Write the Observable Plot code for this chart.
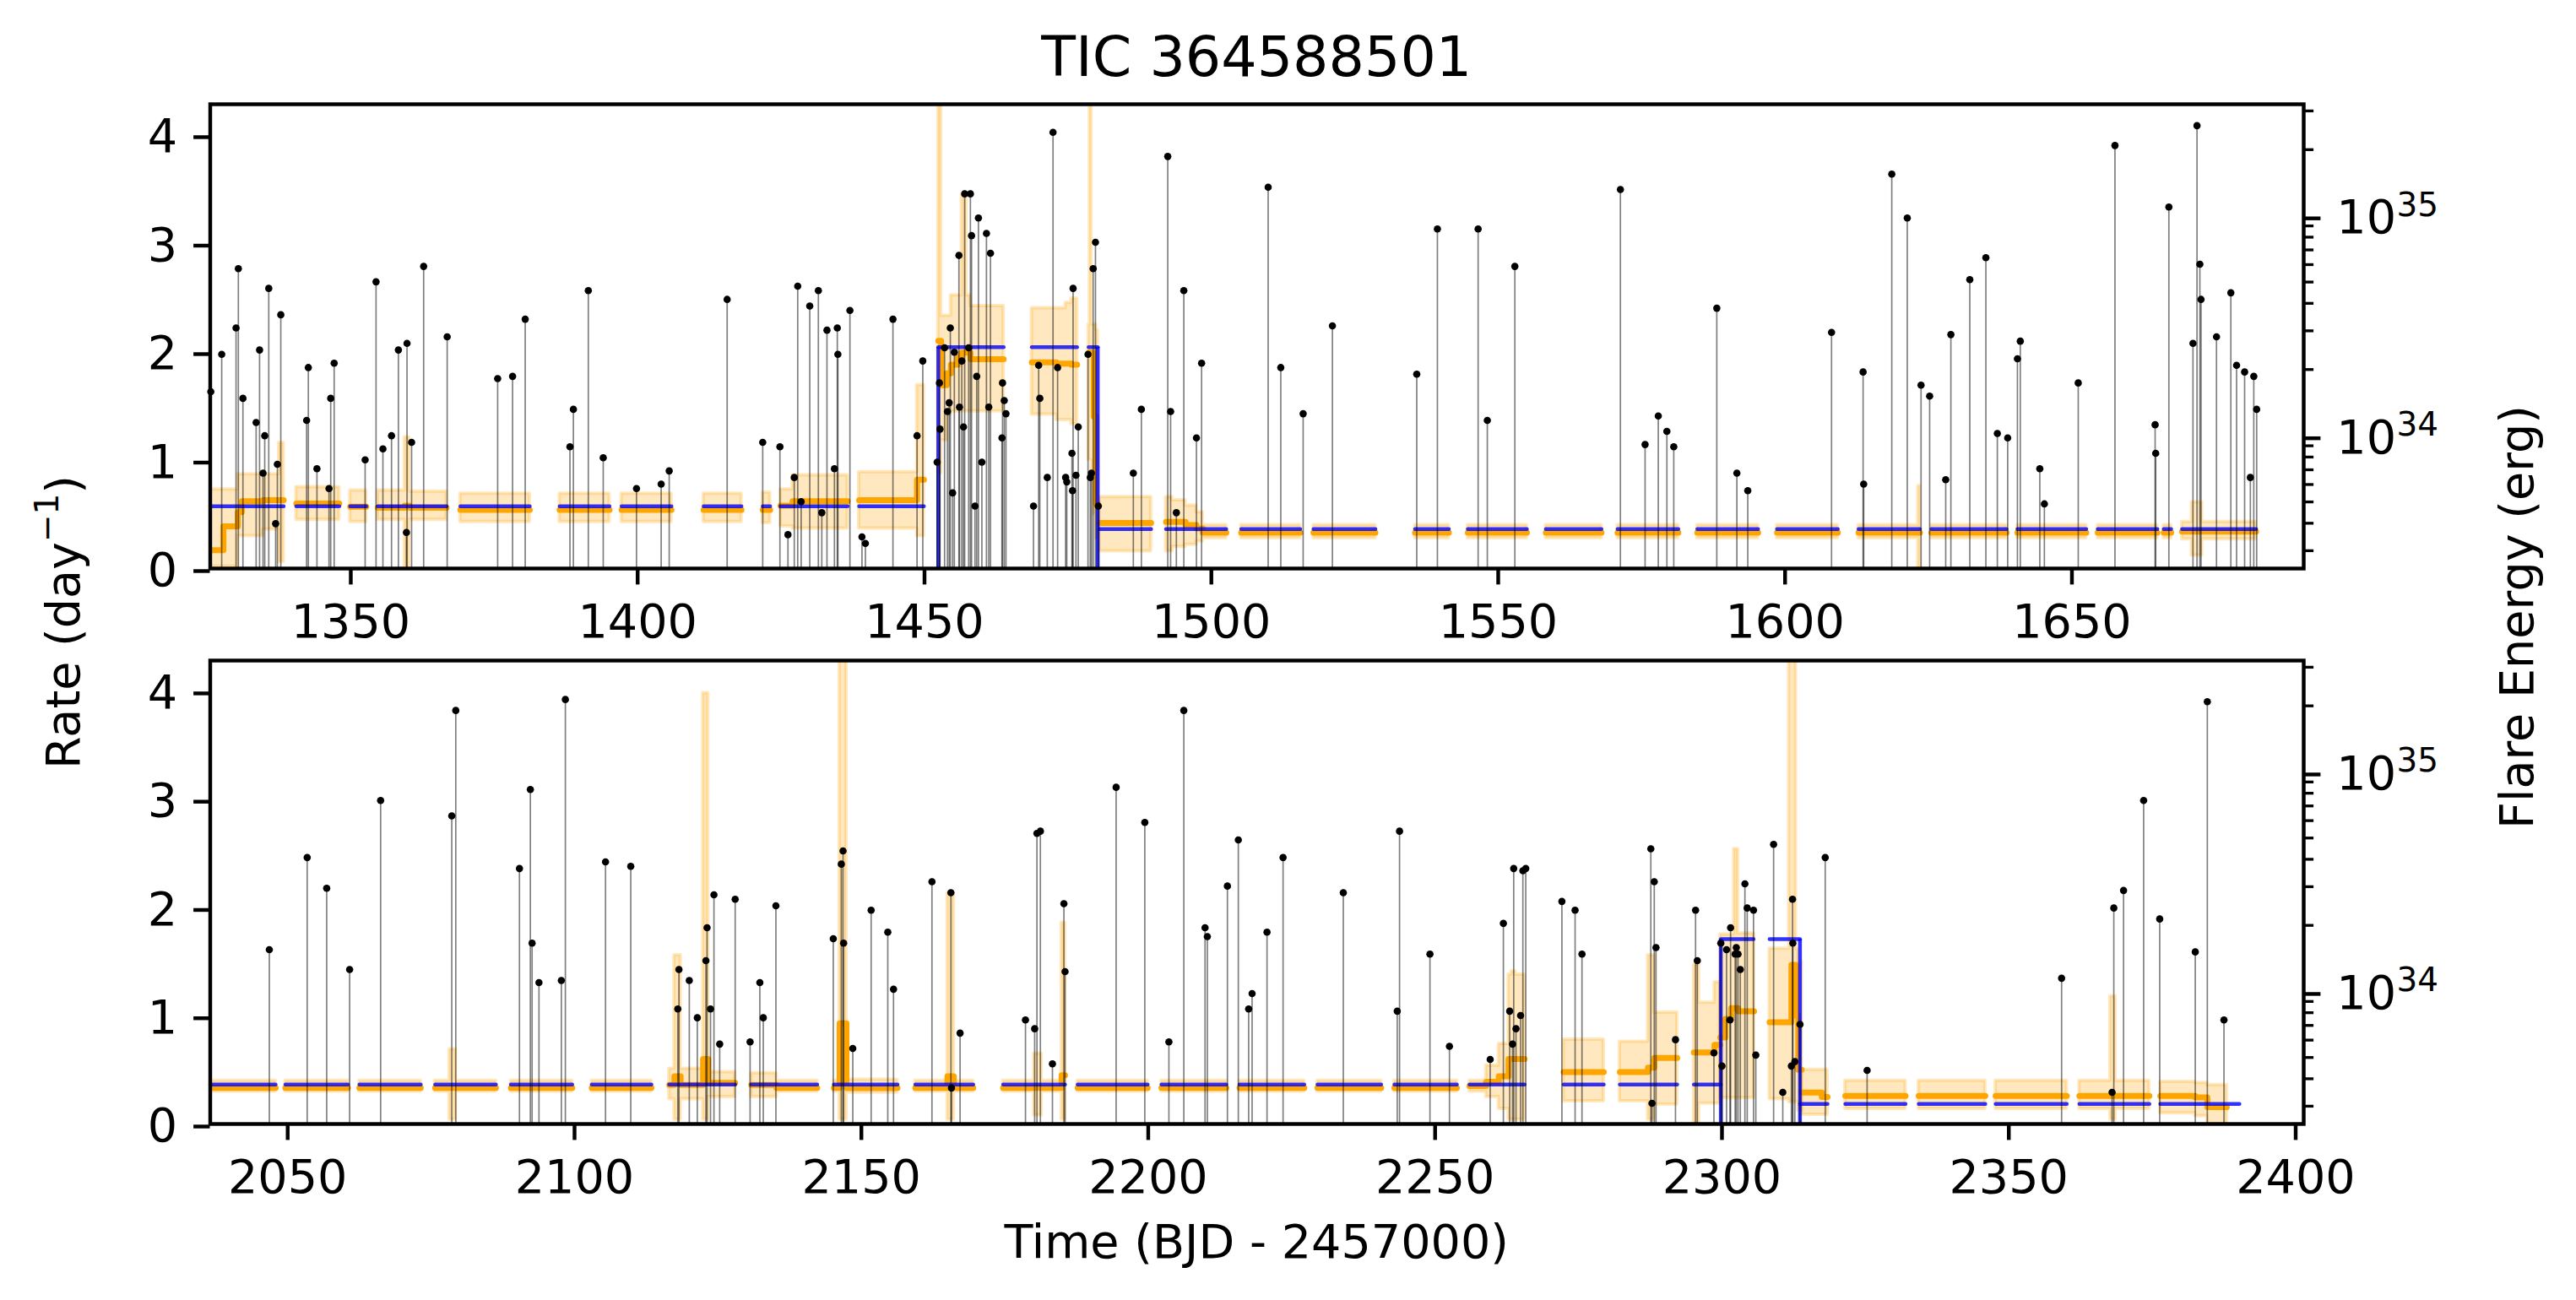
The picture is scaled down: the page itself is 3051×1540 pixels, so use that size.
<!DOCTYPE html>
<html>
<head>
<meta charset="utf-8">
<script src="https://cdn.jsdelivr.net/npm/d3@7"></script>
<script src="https://cdn.jsdelivr.net/npm/@observablehq/plot@0.6"></script>
<style>
html,body{margin:0;padding:0;background:#fff;}
#fig{position:relative;width:3051px;height:1540px;overflow:hidden;font-family:"DejaVu Sans",sans-serif;color:#000;background:#fff;}
#fig .layer{position:absolute;left:0;top:0;}
#fig .lbl{position:absolute;white-space:nowrap;line-height:1;font-family:"DejaVu Sans",sans-serif;color:#000;}
</style>
</head>
<body>
<div id="fig"></div>
<script>
// ---------------- DATA ----------------
const title = "TIC 364588501";
const xLabel = "Time (BJD - 2457000)";
const rightLabel = "Flare Energy (erg)";

const topXDomain = [1325.5, 1690.4];
const bottomXDomain = [2036.5, 2401.4];
const rateDomain = [0, 4.28];
const log10EnergyDomain = [33.396, 35.5075];

const topXTicks = [1350, 1400, 1450, 1500, 1550, 1600, 1650];
const bottomXTicks = [2050, 2100, 2150, 2200, 2250, 2300, 2350, 2400];
const rateTicks = [0, 1, 2, 3, 4];
const energyMajorTicks = [1e34, 1e35];
const energyMajorExp = ["34", "35"];
const energyMinorTicks = [3e33, 4e33, 5e33, 6e33, 7e33, 8e33, 9e33,
  2e34, 3e34, 4e34, 5e34, 6e34, 7e34, 8e34, 9e34, 2e35, 3e35];

// observing segments [start, end] (days)
const topSegs = [
  [1325.5,1338.3],[1340.5,1348.0],[1349.9,1352.7],[1354.7,1366.7],[1369.1,1381.2],
  [1386.4,1395.1],[1397.2,1405.9],[1411.5,1418.1],[1421.8,1423.1],[1424.9,1436.6],
  [1438.6,1449.9],[1452.4,1463.8],[1468.7,1476.6],[1478.6,1480.2],[1480.5,1489.5],
  [1492.1,1502.6],[1505.2,1515.5],[1517.8,1528.6],[1535.5,1541.4],[1544.7,1555.0],
  [1558.3,1568.0],[1570.8,1581.4],[1584.7,1595.3],[1598.6,1609.2],[1612.8,1623.5],
  [1625.5,1638.6],[1640.5,1652.5],[1654.5,1664.9],[1666.0,1667.3],[1669.2,1682.1]
];
// posterior rate steps per segment: [t, median, lower, upper]
const topOrange = [
  [[1325.5,0.17,0.02,0.73],[1327.8,0.39,0.02,0.73],[1330.3,0.52,0.30,0.87],[1331.0,0.62,0.30,0.87],[1334.7,0.63,0.36,0.87],[1337.5,0.63,0.06,1.16]],
  [[1340.5,0.60,0.45,0.75]],
  [[1349.9,0.57,0.43,0.72]],
  [[1354.7,0.56,0.45,0.72],[1359.4,0.58,0.02,1.21],[1360.2,0.56,0.45,0.71]],
  [[1369.1,0.54,0.43,0.69]],
  [[1386.4,0.54,0.43,0.69]],
  [[1397.2,0.54,0.43,0.69]],
  [[1411.5,0.54,0.43,0.69]],
  [[1421.8,0.54,0.42,0.70]],
  [[1424.9,0.58,0.39,0.73],[1427.0,0.62,0.37,0.86]],
  [[1438.6,0.63,0.37,0.89],[1448.7,0.82,0.30,1.69]],
  [[1452.4,2.10,0.88,6],[1452.9,1.69,1.18,2.33],[1453.9,1.80,1.42,2.33],[1454.6,1.88,1.45,2.52],[1455.8,1.95,1.45,2.52],[1456.5,1.99,1.45,3.45],[1457.3,1.99,1.45,2.52],[1458.0,1.93,1.45,2.42]],
  [[1468.7,1.90,1.42,2.40],[1473.0,1.89,1.37,2.40],[1474.6,1.89,1.37,2.45],[1475.6,1.88,1.33,2.49]],
  [[1478.6,1.99,1.00,2.25],[1478.8,1.99,1.00,6],[1479.1,1.99,0.90,2.25],[1479.5,1.40,0.50,2.25],[1479.9,0.60,0.28,2.20]],
  [[1480.5,0.42,0.16,0.66]],
  [[1492.1,0.43,0.16,0.66],[1493.2,0.43,0.20,0.63],[1495.5,0.40,0.22,0.58],[1497.4,0.37,0.25,0.52],[1498.5,0.33,0.28,0.40]],
  [[1505.2,0.33,0.28,0.40]],
  [[1517.8,0.33,0.28,0.40]],
  [[1535.5,0.33,0.28,0.40]],
  [[1544.7,0.33,0.28,0.40]],
  [[1558.3,0.33,0.28,0.40]],
  [[1570.8,0.33,0.28,0.40]],
  [[1584.7,0.33,0.28,0.40]],
  [[1598.6,0.33,0.28,0.40]],
  [[1612.8,0.33,0.28,0.40],[1623.2,0.33,0.0,0.76]],
  [[1625.5,0.33,0.28,0.40]],
  [[1640.5,0.33,0.28,0.40]],
  [[1654.5,0.33,0.28,0.40]],
  [[1666.0,0.33,0.28,0.40]],
  [[1669.2,0.34,0.27,0.43],[1670.9,0.34,0.12,0.61],[1672.7,0.34,0.27,0.43]]
];
// block rate [start, end, rate]
const topBlue = [
  [1325.5,1338.3,0.573],[1340.5,1348.0,0.573],[1349.9,1352.7,0.573],[1354.7,1366.7,0.573],[1369.1,1381.2,0.573],
  [1386.4,1395.1,0.573],[1397.2,1405.9,0.573],[1411.5,1418.1,0.573],[1421.8,1423.1,0.573],[1424.9,1436.6,0.573],
  [1438.6,1449.9,0.573],[1452.4,1463.8,2.04],[1468.7,1476.6,2.04],[1478.6,1480.2,2.04],[1480.5,1489.5,0.364],
  [1492.1,1502.6,0.364],[1505.2,1515.5,0.364],[1517.8,1528.6,0.364],[1535.5,1541.4,0.364],[1544.7,1555.0,0.364],
  [1558.3,1568.0,0.364],[1570.8,1581.4,0.364],[1584.7,1595.3,0.364],[1598.6,1609.2,0.364],[1612.8,1623.5,0.364],
  [1625.5,1638.6,0.364],[1640.5,1652.5,0.364],[1654.5,1664.9,0.364],[1666.0,1667.3,0.364],[1669.2,1682.1,0.364]
];
const topBlueEdges = [[1452.4,2.04],[1480.2,2.04]];

// flares: [time, log10 energy]
const topFlares = [
  [1325.6,34.20],[1327.5,34.37],[1330.0,34.49],[1330.4,34.76],[1331.2,34.17],[1333.5,34.06],[1334.1,34.39],[1334.7,33.83],
  [1335.0,34.00],[1335.7,34.67],[1336.9,33.60],[1337.2,33.87],[1337.8,34.55],[1342.3,34.07],[1342.6,34.31],[1344.1,33.85],
  [1346.2,33.76],[1346.5,34.17],[1347.1,34.33],[1352.5,33.89],[1354.4,34.70],[1355.6,33.94],[1357.1,34.00],[1358.3,34.39],
  [1359.7,33.56],[1359.8,34.42],[1360.6,33.97],[1362.7,34.77],[1366.8,34.45],[1375.6,34.26],[1378.2,34.27],[1380.4,34.53],
  [1388.2,33.95],[1388.8,34.12],[1391.4,34.66],[1394.0,33.90],[1399.8,33.76],[1404.1,33.78],[1405.5,33.84],[1415.6,34.62],
  [1421.8,33.97],[1424.8,33.95],[1426.2,33.55],[1427.3,33.81],[1427.9,34.68],[1428.5,33.70],[1430.0,34.59],[1431.5,34.66],
  [1432.1,33.65],[1433.0,34.48],[1434.3,33.85],[1434.8,34.49],[1434.9,34.37],[1437.0,34.57],[1439.1,33.54],[1439.7,33.51],
  [1444.5,34.53],[1448.7,34.00],[1449.7,34.34],[1452.2,33.88],[1452.6,34.24],[1452.7,34.03],[1453.5,34.40],[1454.0,34.11],
  [1454.3,34.15],[1454.5,34.49],[1454.9,33.74],[1455.2,34.38],[1456.0,34.82],[1456.1,34.13],[1456.5,34.34],[1456.8,34.04],
  [1457.0,35.10],[1457.7,34.40],[1458.0,35.10],[1458.2,34.91],[1458.8,33.68],[1459.1,34.27],[1459.4,34.99],[1460.0,33.88],
  [1460.8,34.92],[1461.2,34.13],[1461.5,34.83],[1463.5,33.99],[1463.6,34.24],[1463.9,34.16],[1464.2,34.10],[1469.0,33.68],
  [1469.9,34.32],[1470.1,34.17],[1471.4,33.81],[1472.4,35.38],[1473.2,34.31],[1474.6,33.81],[1474.8,33.79],[1475.7,33.92],
  [1475.8,33.75],[1475.9,34.67],[1476.4,33.82],[1476.8,34.04],[1478.5,34.37],[1478.9,33.81],[1479.1,33.83],[1479.4,34.76],
  [1479.8,34.88],[1480.3,33.68],[1486.4,33.83],[1487.8,34.12],[1492.4,35.27],[1492.9,34.11],[1493.9,33.65],[1495.2,34.66],
  [1497.4,33.99],[1498.3,34.33],[1509.9,35.13],[1512.1,34.31],[1516.0,34.10],[1521.1,34.50],[1535.8,34.28],[1539.4,34.94],
  [1546.5,34.94],[1548.1,34.07],[1552.9,34.77],[1571.3,35.12],[1575.6,33.96],[1577.9,34.09],[1579.4,34.02],[1580.6,33.95],
  [1588.1,34.58],[1591.6,33.83],[1593.5,33.75],[1608.1,34.47],[1613.6,34.29],[1613.7,33.78],[1618.6,35.19],[1621.3,34.99],
  [1623.7,34.23],[1625.2,34.18],[1628.0,33.80],[1628.9,34.46],[1632.2,34.71],[1635.0,34.81],[1637.0,34.01],[1638.8,33.99],
  [1640.5,34.35],[1641.0,34.43],[1644.4,33.85],[1645.2,33.69],[1651.1,34.24],[1657.5,35.32],[1664.5,34.05],[1664.6,33.92],
  [1666.9,35.04],[1671.1,34.42],[1671.8,35.41],[1672.3,34.78],[1672.5,34.62],[1675.2,34.45],[1677.7,34.65],[1678.7,34.32],
  [1680.1,34.29],[1681.1,33.81],[1681.7,34.27],[1682.2,34.12]
];

const bottomSegs = [
  [2036.5,2047.9],[2049.6,2060.5],[2062.5,2073.2],[2075.7,2086.3],[2088.9,2099.6],[2103.0,2113.4],[2116.5,2128.0],
  [2130.8,2142.3],[2145.2,2156.3],[2159.4,2169.5],[2174.7,2185.5],[2187.7,2199.9],[2202.3,2213.6],[2215.9,2227.2],
  [2229.5,2240.6],[2242.9,2253.8],[2256.0,2265.6],[2272.4,2279.4],[2282.2,2292.2],[2295.1,2299.7],[2299.7,2305.6],
  [2308.3,2313.9],[2313.9,2318.4],[2321.5,2332.0],[2334.3,2345.9],[2347.7,2360.1],[2362.3,2374.5],[2376.4,2388.0]
];
const bottomOrange = [
  [[2036.5,0.334,0.30,0.40]],
  [[2049.6,0.334,0.30,0.40]],
  [[2062.5,0.334,0.30,0.40]],
  [[2075.7,0.334,0.30,0.40],[2078.2,0.334,0.04,0.69],[2079.3,0.334,0.30,0.40]],
  [[2088.9,0.334,0.30,0.40]],
  [[2103.0,0.334,0.30,0.40]],
  [[2116.5,0.36,0.23,0.51],[2117.4,0.44,0.04,1.56],[2118.5,0.36,0.23,0.51],[2122.4,0.60,0.04,3.98],[2123.3,0.38,0.25,0.48]],
  [[2130.8,0.36,0.25,0.47],[2135.2,0.334,0.30,0.40]],
  [[2145.2,0.334,0.30,0.40],[2146.2,0.93,0.04,6],[2147.4,0.334,0.29,0.41]],
  [[2159.4,0.334,0.30,0.40],[2165.0,0.44,0.04,2.13],[2166.1,0.334,0.30,0.40]],
  [[2174.7,0.334,0.30,0.40],[2180.1,0.334,0.08,0.65],[2181.4,0.334,0.30,0.40],[2184.9,0.45,0.04,1.86]],
  [[2187.7,0.334,0.30,0.40]],
  [[2202.3,0.334,0.30,0.40]],
  [[2215.9,0.334,0.30,0.40]],
  [[2229.5,0.334,0.30,0.40]],
  [[2242.9,0.334,0.30,0.40]],
  [[2256.0,0.35,0.30,0.40],[2258.9,0.39,0.25,0.54],[2261.1,0.44,0.14,0.74],[2262.8,0.60,0.04,1.38],[2263.3,0.60,0.04,1.41],[2264.0,0.60,0.04,1.38]],
  [[2272.4,0.48,0.21,0.78]],
  [[2282.2,0.48,0.21,0.76],[2287.1,0.52,0.04,1.56],[2288.2,0.61,0.18,1.03]],
  [[2295.1,0.66,0.0,1.47],[2296.0,0.66,0.19,1.12],[2298.7,0.73,0.19,1.31]],
  [[2299.7,0.80,0.24,1.75],[2300.6,0.97,0.24,1.75],[2301.6,1.07,0.24,1.75],[2302.1,1.07,0.24,2.54],[2302.8,1.04,0.24,1.76]],
  [[2308.3,0.94,0.23,1.62],[2311.7,0.94,0.20,6],[2312.1,1.47,0.20,6],[2312.9,1.00,0.20,1.62],[2313.3,0.50,0.12,1.50]],
  [[2313.9,0.29,0.085,0.50],[2317.4,0.25,0.085,0.50]],
  [[2321.5,0.26,0.14,0.40]],
  [[2334.3,0.26,0.14,0.40]],
  [[2347.7,0.26,0.14,0.40]],
  [[2362.3,0.26,0.14,0.40],[2367.7,0.26,0.04,1.18],[2368.6,0.26,0.14,0.40]],
  [[2376.4,0.26,0.10,0.39],[2382.5,0.245,0.075,0.38],[2384.6,0.155,0.0,0.36]]
];
const bottomBlue = [
  [2036.5,2047.9,0.364],[2049.6,2060.5,0.364],[2062.5,2073.2,0.364],[2075.7,2086.3,0.364],[2088.9,2099.6,0.364],
  [2103.0,2113.4,0.364],[2116.5,2128.0,0.364],[2130.8,2142.3,0.364],[2145.2,2156.3,0.364],[2159.4,2169.5,0.364],
  [2174.7,2185.5,0.364],[2187.7,2199.9,0.364],[2202.3,2213.6,0.364],[2215.9,2227.2,0.364],[2229.5,2240.6,0.364],
  [2242.9,2253.8,0.364],[2256.0,2265.6,0.364],[2272.4,2279.4,0.364],[2282.2,2292.2,0.364],[2295.1,2299.8,0.364],
  [2299.8,2305.5,1.707],[2308.3,2313.6,1.707],[2313.6,2318.4,0.185],[2321.5,2332.0,0.185],[2334.3,2345.9,0.185],
  [2347.7,2360.1,0.185],[2362.3,2374.5,0.185],[2376.4,2390.2,0.185]
];
const bottomBlueEdges = [[2299.8,1.707],[2313.6,1.707]];

const bottomFlares = [
  [2046.8,34.19],[2053.4,34.61],[2056.8,34.47],[2060.8,34.10],[2066.2,34.87],[2078.6,34.80],[2079.3,35.28],[2090.4,34.56],
  [2092.3,34.92],[2092.6,34.22],[2093.8,34.04],[2097.7,34.05],[2098.4,35.33],[2105.4,34.59],[2109.8,34.57],[2118.0,33.92],
  [2118.2,34.10],[2120.0,34.05],[2121.4,33.88],[2122.9,34.14],[2123.1,34.29],[2123.7,33.92],[2124.3,34.44],[2125.3,33.76],
  [2128.0,34.42],[2130.6,33.77],[2132.3,34.04],[2132.9,33.88],[2135.1,34.39],[2145.1,34.24],[2146.5,34.58],[2146.8,34.64],
  [2146.9,34.22],[2148.5,33.74],[2151.7,34.37],[2154.6,34.27],[2155.6,34.01],[2162.3,34.50],[2165.6,34.45],[2165.7,33.56],
  [2167.2,33.81],[2178.6,33.87],[2180.2,33.83],[2180.6,34.72],[2181.2,34.73],[2183.3,33.67],[2185.3,34.40],[2185.5,34.09],
  [2194.4,34.93],[2199.4,34.77],[2203.6,33.77],[2206.2,35.28],[2209.9,34.29],[2210.3,34.25],[2213.8,34.48],[2215.7,34.69],
  [2217.5,33.92],[2218.1,33.99],[2220.7,34.27],[2223.5,34.61],[2234.0,34.45],[2243.4,33.91],[2243.8,34.73],[2249.1,34.17],
  [2252.5,33.75],[2259.6,33.69],[2261.9,34.31],[2263.0,33.91],[2263.5,33.76],[2263.7,34.56],[2264.1,33.83],[2264.9,33.89],
  [2265.3,34.55],[2265.8,34.56],[2272.1,34.41],[2274.4,34.37],[2275.6,34.17],[2287.6,34.65],[2287.8,33.49],[2288.2,34.50],
  [2288.5,34.20],[2291.9,33.78],[2295.4,34.37],[2295.7,34.14],[2298.6,33.72],[2299.8,34.22],[2300.0,33.66],[2300.8,34.19],
  [2301.4,33.87],[2301.5,34.29],[2302.3,34.17],[2302.5,34.20],[2302.8,34.17],[2303.2,34.10],[2304.0,34.49],[2304.4,34.38],
  [2305.5,34.37],[2305.9,33.71],[2309.0,34.67],[2310.6,33.54],[2312.1,33.66],[2312.3,34.42],[2312.35,34.22],[2312.7,33.68],
  [2313.6,33.85],[2318.0,34.61],[2325.3,33.64],[2359.2,34.06],[2368.0,33.54],[2368.3,34.38],[2370.0,34.46],[2373.5,34.87],
  [2376.3,34.33],[2382.5,34.18],[2384.6,35.32],[2387.5,33.87]
];

// ---------------- LAYOUT ----------------
const W = 3051, H = 1540;
const FRAME_L = 248.5, FRAME_R = 2728;
const FS = 55.6;          // 10 pt at 400 dpi
const LW = 4.44;          // 0.8 pt
const TICK = 19.4;        // 3.5 pt
const panels = [
  {top:123, bottom:673, xDomain:topXDomain, xTicks:topXTicks, segs:topSegs, orange:topOrange, blue:topBlue, edges:topBlueEdges, flares:topFlares},
  {top:782, bottom:1331, xDomain:bottomXDomain, xTicks:bottomXTicks, segs:bottomSegs, orange:bottomOrange, blue:bottomBlue, edges:bottomBlueEdges, flares:bottomFlares}
];

const baseStyle = {fontFamily:"DejaVu Sans", fontSize:FS + "px", background:"transparent", color:"black", overflow:"visible"};

function dims(p) {
  return {width:W, height:H, marginLeft:FRAME_L, marginRight:W - FRAME_R, marginTop:p.top, marginBottom:H - p.bottom, style:baseStyle};
}

function rateLayer(p) {
  const band = [];
  p.segs.forEach(([t0, t1], i) => {
    const steps = p.orange[i];
    steps.forEach(([t, m, lo, hi]) => band.push({seg:i, t, m, lo, hi}));
    const last = steps[steps.length - 1];
    band.push({seg:i, t:t1, m:last[1], lo:last[2], hi:last[3]});
  });
  const blue = [];
  p.blue.forEach(([t0, t1, r], i) => { blue.push({seg:i, t:t0, r}, {seg:i, t:t1, r}); });
  return Plot.plot({
    ...dims(p),
    x:{domain:p.xDomain},
    y:{domain:rateDomain},
    marks:[
      Plot.areaY(band, {x:"t", y1:"lo", y2:"hi", z:"seg", curve:"step-after", fill:"orange", fillOpacity:0.25, stroke:"orange", strokeOpacity:0.25, strokeWidth:4, clip:true}),
      Plot.line(band, {x:"t", y:"m", z:"seg", curve:"step-after", stroke:"orange", strokeWidth:7, clip:true}),
      Plot.line(blue, {x:"t", y:"r", z:"seg", stroke:"blue", strokeOpacity:0.8, strokeWidth:4.5}),
      Plot.ruleX(p.edges, {x:d => d[0], y1:0, y2:d => d[1], stroke:"blue", strokeOpacity:0.8, strokeWidth:4.5}),
      Plot.axisX({ticks:p.xTicks, tickFormat:d => String(d), tickSize:TICK, tickPadding:23, strokeWidth:LW, fontSize:FS, label:null}),
      Plot.axisY({ticks:rateTicks, tickFormat:d => String(d), tickSize:TICK, tickPadding:TICK, strokeWidth:LW, fontSize:FS, dy:3, label:null}),
      Plot.frame({stroke:"black", strokeWidth:LW})
    ]
  });
}

function energyLayer(p) {
  const fl = p.flares.map(([t, le]) => ({t, e:Math.pow(10, le)}));
  const yMin = Math.pow(10, log10EnergyDomain[0]);
  const yMax = Math.pow(10, log10EnergyDomain[1]);
  const exps = energyMajorTicks.map((v, i) => ({v, s:energyMajorExp[i]}));
  return Plot.plot({
    ...dims(p),
    x:{domain:p.xDomain, axis:null},
    y:{type:"log", domain:[yMin, yMax]},
    marks:[
      Plot.ruleX(fl, {x:"t", y1:() => yMin, y2:"e", stroke:"black", strokeOpacity:0.5, strokeWidth:1.7}),
      Plot.dot(fl, {x:"t", y:"e", r:4.3, fill:"black", stroke:null}),
      Plot.axisY({anchor:"right", ticks:energyMinorTicks, tickSize:11.1, strokeWidth:3.33, tickFormat:() => "", label:null}),
      Plot.axisY({anchor:"right", ticks:energyMajorTicks, tickSize:TICK, tickPadding:TICK, strokeWidth:LW, fontSize:FS, dy:3, tickFormat:() => "10", label:null}),
      Plot.text(exps, {y:"v", text:"s", frameAnchor:"right", dx:110, dy:0, fontSize:FS * 0.7, textAnchor:"start", lineAnchor:"bottom"})
    ]
  });
}

const fig = document.getElementById("fig");
for (const p of panels) {
  for (const make of [rateLayer, energyLayer]) {
    const wrap = document.createElement("div");
    wrap.className = "layer";
    wrap.appendChild(make(p));
    fig.appendChild(wrap);
  }
}

function addLabel(html, css) {
  const d = document.createElement("div");
  d.className = "lbl";
  d.innerHTML = html;
  Object.assign(d.style, css);
  fig.appendChild(d);
}
const ctr = (FRAME_L + FRAME_R) / 2;
addLabel(title, {left:ctr + "px", top:(90 - 0.846 * 66.7) + "px", fontSize:"66.7px", transform:"translateX(-50%)"});
addLabel(xLabel, {left:ctr + "px", top:(1490 - 0.846 * FS) + "px", fontSize:FS + "px", transform:"translateX(-50%)"});
addLabel('Rate (day<span style="font-size:0.7em;position:relative;top:-0.64em">\u22121</span>)',
  {left:(94 - 0.346 * FS) + "px", top:"737px", fontSize:FS + "px", transform:"translate(-50%,-50%) rotate(-90deg)"});
addLabel(rightLabel, {left:(3000 - 0.346 * FS) + "px", top:"731px", fontSize:FS + "px", transform:"translate(-50%,-50%) rotate(-90deg)"});
</script>
</body>
</html>
